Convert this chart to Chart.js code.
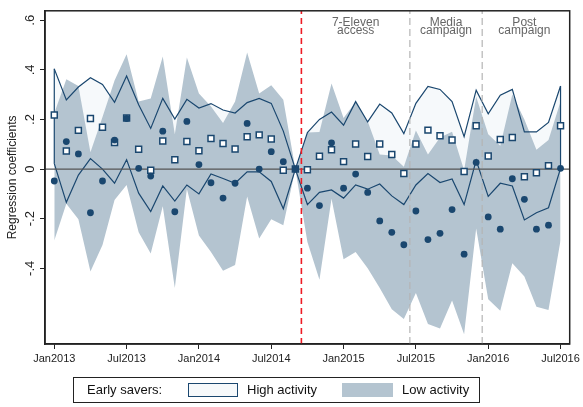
<!DOCTYPE html>
<html>
<head>
<meta charset="utf-8">
<script src="https://cdn.jsdelivr.net/npm/chart.js@4.4.0/dist/chart.umd.min.js"></script>
<style>
  html, body { margin: 0; padding: 0; background: #fff; }
  #wrap { position: relative; width: 583px; height: 407px; font-family: 'Liberation Sans', Arial, sans-serif; }
  #legend { position: absolute; left: 73px; top: 377px; width: 407px; height: 26px; border: 1px solid #222;
            box-sizing: border-box; font-size: 13px; color: #111; }
  #legend span { position: absolute; top: 4px; line-height: 16px; white-space: nowrap; }
  .sw { position: absolute; top: 5px; height: 14px; box-sizing: border-box; }
</style>
</head>
<body>
<div id="wrap">
  <canvas id="chart" width="583" height="407"></canvas>
  <div id="legend">
    <span style="left:13px">Early savers:</span>
    <div class="sw" style="left:114px;width:50px;background:#f6f9fb;border:1px solid #1a476f"></div>
    <span style="left:173px">High activity</span>
    <div class="sw" style="left:268px;width:51px;background:#b4c4d0"></div>
    <span style="left:328px">Low activity</span>
  </div>
</div>
<script>
// --- Data (month index 0 = Jan2013) ---
const xTickValues = [0, 6, 12, 18, 24, 30, 36, 42];
const xTickLabels = ['Jan2013', 'Jul2013', 'Jan2014', 'Jul2014', 'Jan2015', 'Jul2015', 'Jan2016', 'Jul2016'];
const yTickValues = [-0.4, -0.2, 0, 0.2, 0.4, 0.6];
const yTickLabels = ['-.4', '-.2', '0', '.2', '.4', '.6'];

const eventLines = [20.5, 29.5, 35.5];
const periodCenters = [25, 32.5, 39];
const periodLabels = [['7-Eleven', 'access'], ['Media', 'campaign'], ['Post', 'campaign']];

const highCoef = [0.218, 0.073, 0.156, 0.204, 0.169, 0.107, 0.206, 0.080, -0.005, 0.113,
                  0.038, 0.111, 0.074, 0.123, 0.103, 0.081, 0.130, 0.138, 0.121, -0.005,
                  0, -0.003, 0.052, 0.078, 0.030, 0.101, 0.051, 0.101, 0.059, -0.018,
                  0.101, 0.157, 0.134, 0.117, -0.010, 0.175, 0.053, 0.119, 0.127, -0.031,
                  -0.015, 0.014, 0.175];
const highUpper = [0.404, 0.279, 0.331, 0.368, 0.341, 0.269, 0.375, 0.259, 0.164, 0.285,
                   0.202, 0.281, 0.246, 0.264, 0.238, 0.226, 0.268, 0.285, 0.265, 0.153,
                   0, 0.147, 0.200, 0.230, 0.177, 0.272, 0.190, 0.262, 0.226, 0.143,
                   0.265, 0.333, 0.321, 0.272, 0.131, 0.318, 0.223, 0.298, 0.321, 0.150,
                   0.150, 0.188, 0.335];
const highLower = [0.022, -0.134, -0.024, 0.042, 0.000, -0.057, 0.038, -0.097, -0.171, -0.068,
                   -0.129, -0.064, -0.100, -0.020, -0.038, -0.057, -0.011, -0.011, -0.050, -0.160,
                   0, -0.143, -0.094, -0.084, -0.117, -0.064, -0.081, -0.060, -0.108, -0.143,
                   -0.064, -0.018, -0.054, -0.040, -0.143, 0.035, -0.110, -0.057, -0.068, -0.205,
                   -0.176, -0.156, 0.003];

const lowCoef = [-0.048, 0.111, 0.061, -0.176, -0.048, 0.117, 0.204, 0.003, -0.028, 0.153,
                 -0.172, 0.192, 0.018, -0.055, -0.117, -0.057, 0.184, 0.000, 0.070, 0.030,
                 0, -0.077, -0.147, 0.106, -0.077, -0.020, -0.094, -0.209, -0.255, -0.305,
                 -0.169, -0.284, -0.259, -0.163, -0.343, 0.027, -0.193, -0.242, -0.039, -0.122,
                 -0.242, -0.226, 0.003];
const lowUpper = [0.225, 0.362, 0.335, 0.068, 0.210, 0.357, 0.463, 0.272, 0.285, 0.454,
                  0.140, 0.450, 0.305, 0.252, 0.186, 0.272, 0.470, 0.305, 0.338, 0.279,
                  0, 0.147, 0.149, 0.345, 0.206, 0.270, 0.193, 0.059, 0.055, 0.009,
                  0.156, 0.059, 0.127, 0.150, -0.005, 0.292, 0.140, 0.094, 0.301, 0.200,
                  0.078, 0.117, 0.272];
const lowLower = [-0.288, -0.140, -0.202, -0.413, -0.306, -0.125, -0.064, -0.255, -0.340, -0.150,
                  -0.479, -0.080, -0.268, -0.334, -0.410, -0.387, -0.110, -0.280, -0.202, -0.226,
                  0, -0.294, -0.446, -0.120, -0.363, -0.334, -0.400, -0.479, -0.565, -0.604,
                  -0.499, -0.624, -0.643, -0.530, -0.666, -0.239, -0.525, -0.571, -0.380, -0.433,
                  -0.555, -0.568, -0.288];

// --- Styles ---
const FONT = "'Liberation Sans', Arial, sans-serif";
const NAVY = '#1a476f';
const LOW_FILL = 'rgb(180,196,208)';
const HIGH_FILL = 'rgb(246,249,251)';
const X_MIN = -0.77, X_MAX = 42.76;
const Y_MIN = -0.705, Y_MAX = 0.638;

const pts = arr => arr.map((v, i) => ({ x: i, y: v }));
const last = highCoef.length - 1;

function vline(x, color, dash, width) {
    return {
        data: [{ x: x, y: Y_MIN }, { x: x, y: Y_MAX }],
        borderColor: color, borderDash: dash, borderWidth: width, order: 2
    };
}

// Disegna cornice, etichette ruotate asse y e testi dei periodi
const decorations = {
    id: 'decorations',
    afterDraw(chart) {
        const { ctx, chartArea: a, scales: { x, y } } = chart;
        ctx.save();
        ctx.strokeStyle = '#222';
        ctx.lineWidth = 1.5;
        ctx.strokeRect(a.left, a.top, a.right - a.left, a.bottom - a.top);

        ctx.fillStyle = '#222';
        ctx.font = '13px ' + FONT;
        ctx.textAlign = 'center';
        ctx.textBaseline = 'middle';
        yTickValues.forEach((v, i) => {
            ctx.save();
            ctx.translate(a.left - 15, y.getPixelForValue(v));
            ctx.rotate(-Math.PI / 2);
            ctx.fillText(yTickLabels[i], 0, 0);
            ctx.restore();
        });

        ctx.fillStyle = '#666';
        ctx.font = '12px ' + FONT;
        ctx.textBaseline = 'alphabetic';
        periodLabels.forEach((lines, k) => {
            const px = x.getPixelForValue(periodCenters[k]);
            ctx.fillText(lines[0], px, a.top + 15.5);
            ctx.fillText(lines[1], px, a.top + 23.5);
        });
        ctx.restore();
    }
};

new Chart(document.getElementById('chart').getContext('2d'), {
    type: 'line',
    data: {
        datasets: [
            // bande di confidenza (riempimenti)
            { data: pts(highUpper), fill: '+1', backgroundColor: HIGH_FILL, borderWidth: 0, order: 6 },
            { data: pts(highLower), fill: false, borderWidth: 0, order: 6 },
            { data: pts(lowUpper), fill: '+1', backgroundColor: LOW_FILL, borderWidth: 0, order: 5 },
            { data: pts(lowLower), fill: false, borderWidth: 0, order: 5 },
            // contorno banda high activity
            { data: pts(highUpper), borderColor: NAVY, borderWidth: 1.2, order: 4 },
            { data: pts(highLower), borderColor: NAVY, borderWidth: 1.2, order: 4 },
            { data: [{ x: 0, y: highUpper[0] }, { x: 0, y: highLower[0] }], borderColor: NAVY, borderWidth: 1.2, order: 4 },
            { data: [{ x: last, y: highUpper[last] }, { x: last, y: highLower[last] }], borderColor: NAVY, borderWidth: 1.2, order: 4 },
            // linea dello zero e linee evento
            { data: [{ x: X_MIN, y: 0 }, { x: X_MAX, y: 0 }], borderColor: '#555', borderWidth: 1.3, order: 3 },
            vline(eventLines[0], '#ee1c25', [6, 4], 1.6),
            vline(eventLines[1], '#b4b4b4', [7, 4], 1.2),
            vline(eventLines[2], '#b4b4b4', [7, 4], 1.2),
            // coefficienti
            { data: pts(highCoef), showLine: false, pointStyle: 'rect', pointRadius: 4.2,
              pointBorderWidth: 1.5, pointBorderColor: NAVY, pointBackgroundColor: '#fff', order: 1 },
            { data: pts(lowCoef), showLine: false, pointStyle: 'circle', pointRadius: 3.4,
              pointBorderWidth: 0, pointBackgroundColor: NAVY, order: 0 }
        ]
    },
    options: {
        responsive: false,
        animation: false,
        events: [],
        layout: { padding: { left: 0, right: 11, top: 4, bottom: 0 } },
        elements: { point: { radius: 0 }, line: { tension: 0 } },
        plugins: { legend: { display: false }, tooltip: { enabled: false } },
        scales: {
            x: {
                type: 'linear', min: X_MIN, max: X_MAX,
                afterBuildTicks: s => { s.ticks = xTickValues.map(v => ({ value: v })); },
                afterFit: s => { s.height = 63; },
                ticks: {
                    callback: (v, i) => xTickLabels[i],
                    font: { size: 11, family: FONT }, color: '#222',
                    padding: 3, maxRotation: 0, autoSkip: false
                },
                grid: { drawOnChartArea: false, tickLength: 5, color: '#222' },
                border: { color: '#222', width: 1.5 }
            },
            y: {
                min: Y_MIN, max: Y_MAX,
                afterBuildTicks: s => { s.ticks = yTickValues.map(v => ({ value: v })); },
                afterFit: s => { s.width = 45; },
                ticks: { color: 'rgba(0,0,0,0)', font: { size: 13, family: FONT } },
                grid: { drawOnChartArea: false, tickLength: 5, color: '#222' },
                border: { color: '#222', width: 1.5 },
                title: {
                    display: true, text: 'Regression coefficients', color: '#222',
                    font: { size: 12, family: FONT }, padding: { top: 5, bottom: 0 }
                }
            }
        }
    },
    plugins: [decorations]
});
</script>
</body>
</html>
